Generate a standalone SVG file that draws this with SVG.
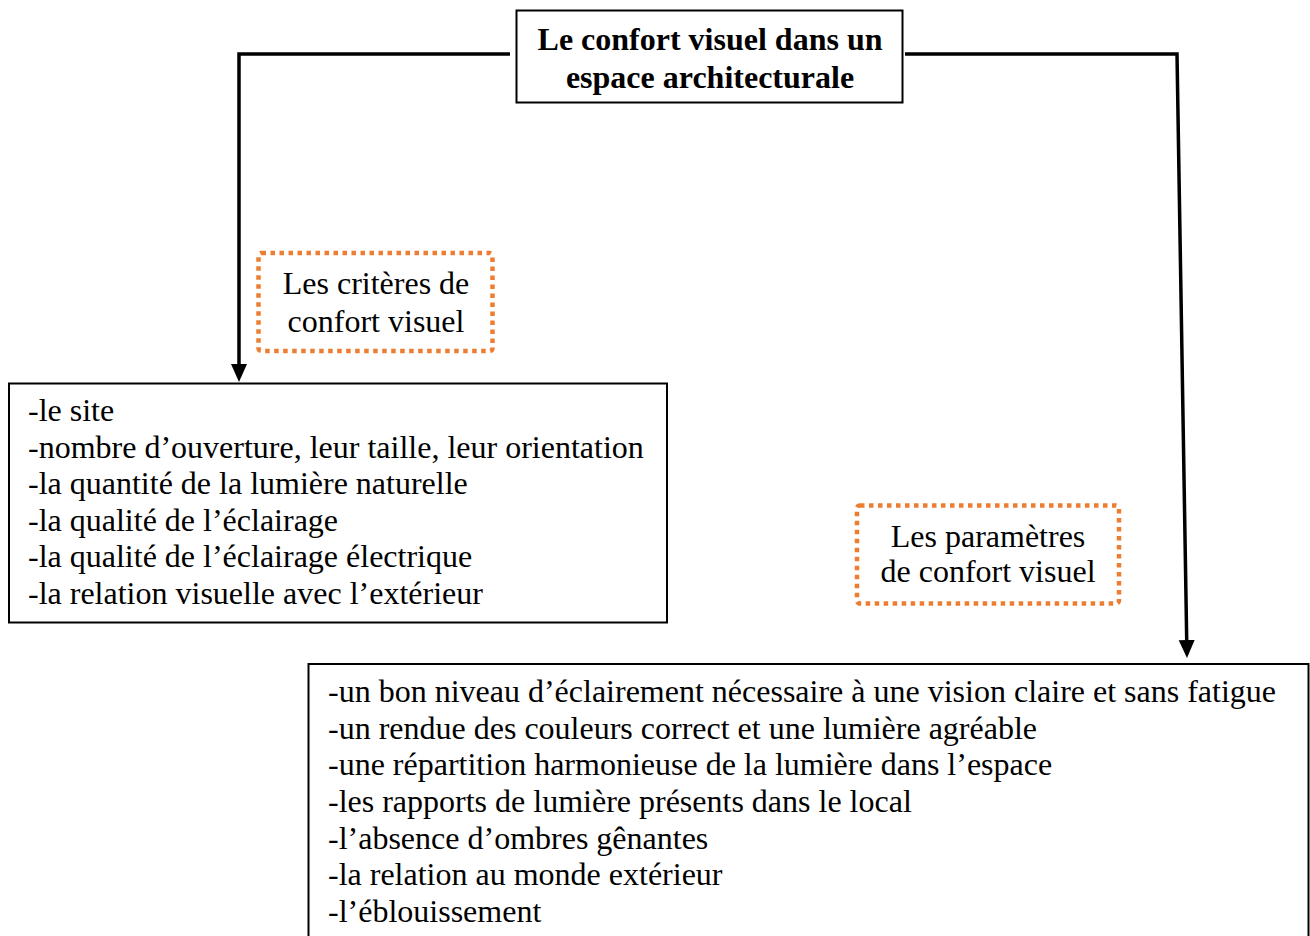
<svg xmlns="http://www.w3.org/2000/svg" width="1310" height="936" viewBox="0 0 1310 936">
  <style>
    .box { fill: #ffffff; stroke: #000000; stroke-width: 2; }
    .note { fill: none; stroke: #ED7D31; stroke-width: 4.5; stroke-dasharray: 4.5 4.5; }
    .txt { font-family: "Liberation Serif", "Times New Roman", serif; font-size: 32px; fill: #000000; }
    .title { font-family: "Liberation Serif", "Times New Roman", serif; font-size: 32px; font-weight: bold; fill: #000000; }
    .conn { fill: none; stroke: #000000; stroke-width: 3.5; }
  </style>
  <defs>
    <marker id="arrow" markerUnits="userSpaceOnUse" markerWidth="18" markerHeight="20" refX="0" refY="8" orient="auto" viewBox="0 0 18 16">
      <polygon points="0,0 18,8 0,16" fill="#000000"/>
    </marker>
  </defs>
  <rect width="1310" height="936" fill="#ffffff"/>

  <g id="connectors">
    <path class="conn" d="M510,54 H239 V364" marker-end="url(#arrow)"/>
    <path class="conn" d="M905,54 H1177 L1186.7,640" marker-end="url(#arrow)"/>
  </g>

  <g id="title">
    <rect class="box" x="516.5" y="10.5" width="386" height="92"/>
    <text class="title" x="710" y="50" text-anchor="middle">Le confort visuel dans un</text>
    <text class="title" x="710" y="88" text-anchor="middle">espace architecturale</text>
  </g>

  <g id="label-criteres">
    <rect class="note" x="258.5" y="253" width="234" height="98" rx="3"/>
    <text class="txt" x="376" y="294" text-anchor="middle">Les critères de</text>
    <text class="txt" x="376" y="332" text-anchor="middle">confort visuel</text>
  </g>

  <g id="criteres">
    <rect class="box" x="9" y="383.5" width="658" height="239"/>
    <text class="txt" x="28" y="421">-le site</text>
    <text class="txt" x="28" y="457.5">-nombre d’ouverture, leur taille, leur orientation</text>
    <text class="txt" x="28" y="494">-la quantité de la lumière naturelle</text>
    <text class="txt" x="28" y="530.5">-la qualité de l’éclairage</text>
    <text class="txt" x="28" y="567">-la qualité de l’éclairage électrique</text>
    <text class="txt" x="28" y="603.5">-la relation visuelle avec l’extérieur</text>
  </g>

  <g id="label-parametres">
    <rect class="note" x="857" y="505.5" width="262" height="98" rx="3"/>
    <text class="txt" x="988" y="547" text-anchor="middle">Les paramètres</text>
    <text class="txt" x="988" y="582" text-anchor="middle">de confort visuel</text>
  </g>

  <g id="parametres">
    <rect class="box" x="308.5" y="664" width="1000" height="290"/>
    <text class="txt" x="328" y="702">-un bon niveau d’éclairement nécessaire à une vision claire et sans fatigue</text>
    <text class="txt" x="328" y="738.7">-un rendue des couleurs correct et une lumière agréable</text>
    <text class="txt" x="328" y="775.3">-une répartition harmonieuse de la lumière dans l’espace</text>
    <text class="txt" x="328" y="812">-les rapports de lumière présents dans le local</text>
    <text class="txt" x="328" y="848.7">-l’absence d’ombres gênantes</text>
    <text class="txt" x="328" y="885.3">-la relation au monde extérieur</text>
    <text class="txt" x="328" y="922">-l’éblouissement</text>
  </g>
</svg>
